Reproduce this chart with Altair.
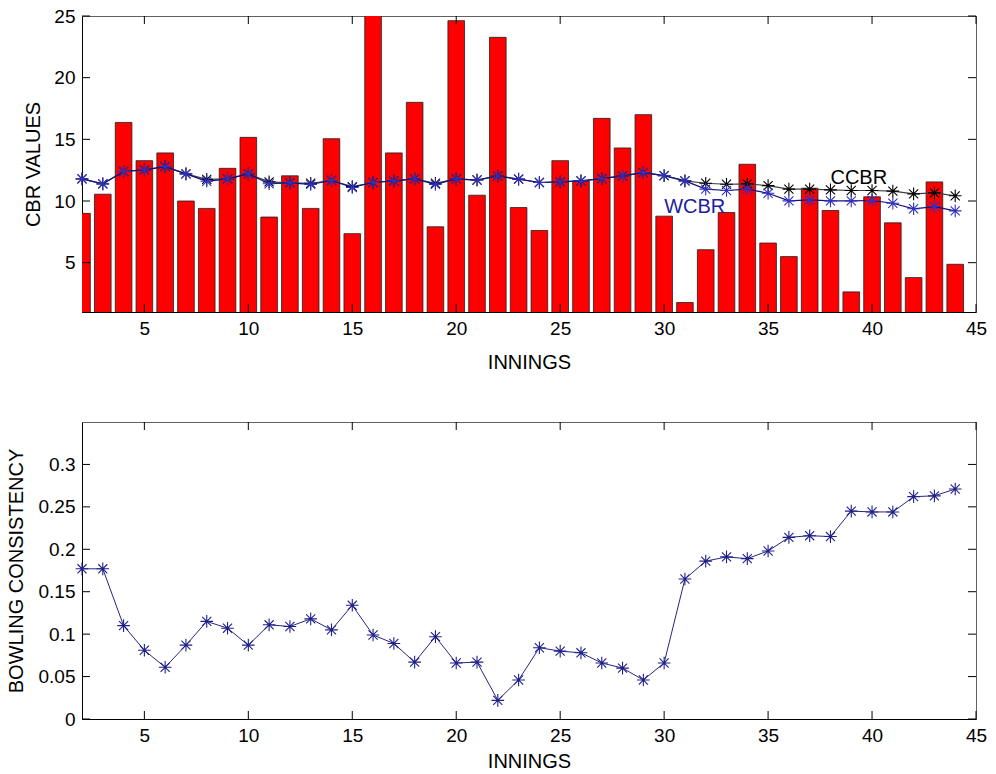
import altair as alt
import pandas as pd

# ---------------- data ----------------
innings = list(range(2, 45))
cbr = [9.0, 10.55, 16.37, 13.27, 13.9, 10.0, 9.4, 12.65, 15.16, 8.7,
       12.04, 9.4, 15.05, 7.35, 27.0, 13.9, 18.0, 7.91, 24.62, 10.47,
       23.27, 9.47, 7.61, 13.27, 11.63, 16.7, 14.3, 17.0, 8.77, 1.77,
       6.05, 9.07, 12.98, 6.59, 5.49, 11.04, 9.23, 2.63, 10.34, 8.23,
       3.79, 11.55, 4.87]
ccbr = [11.79, 11.39, 12.39, 12.52, 12.79, 12.2, 11.75, 11.79, 12.2, 11.55,
        11.47, 11.44, 11.66, 11.17, 11.5, 11.63, 11.79, 11.44, 11.79, 11.7,
        12.03, 11.77, 11.5, 11.55, 11.63, 11.82, 12.03, 12.3, 12.06, 11.63,
        11.44, 11.36, 11.39, 11.25, 10.96, 10.96, 10.9, 10.85, 10.85, 10.8,
        10.58, 10.66, 10.42]
wcbr = [11.79, 11.39, 12.39, 12.52, 12.79, 12.2, 11.6, 11.79, 12.2, 11.4,
        11.47, 11.35, 11.66, 11.1, 11.5, 11.63, 11.79, 11.35, 11.79, 11.7,
        12.03, 11.77, 11.5, 11.55, 11.63, 11.82, 12.03, 12.3, 12.06, 11.63,
        10.96, 10.85, 10.96, 10.63, 10.01, 10.09, 10.01, 10.01, 10.04, 9.82,
        9.37, 9.55, 9.2]
consistency = [0.177, 0.177, 0.110, 0.081, 0.061, 0.087, 0.115, 0.107, 0.087, 0.111,
               0.109, 0.118, 0.105, 0.134, 0.099, 0.089, 0.067, 0.097, 0.066, 0.067,
               0.022, 0.046, 0.084, 0.080, 0.078, 0.066, 0.060, 0.046, 0.066, 0.165,
               0.186, 0.191, 0.189, 0.198, 0.214, 0.216, 0.215, 0.245, 0.244, 0.244,
               0.262, 0.263, 0.271]

x_ticks = [5, 10, 15, 20, 25, 30, 35, 40, 45]
y1_ticks = [5, 10, 15, 20, 25]
y2_ticks = [0, 0.05, 0.1, 0.15, 0.2, 0.25, 0.3]

ann_label = ["CCBR", "WCBR"]
ann_x = [38.0, 30.0]
ann_y = [11.85, 9.5]
ann_color = ["black", "#2020a0"]

# ---------------- layout / style ----------------
W = 894
H1 = 296
H2 = 297
TICK = 8
FONT = "Liberation Sans"
STAR = "M-1,0L1,0M0,-1L0,1M-0.72,-0.72L0.72,0.72M-0.72,0.72L0.72,-0.72"

df_top = pd.DataFrame({"inning": innings, "cbr": cbr, "ccbr": ccbr, "wcbr": wcbr})
df_bot = pd.DataFrame({"inning": innings, "bc": consistency})
df_xt = pd.DataFrame({"t": x_ticks})
df_y1t = pd.DataFrame({"t": y1_ticks})
df_y2t = pd.DataFrame({"t": y2_ticks})
df_ann = pd.DataFrame({"label": ann_label, "x": ann_x, "y": ann_y, "c": ann_color})

xscale = alt.Scale(domain=[2, 45], nice=False, zero=False)
y1scale = alt.Scale(domain=[1, 25], nice=False, zero=False)
y2scale = alt.Scale(domain=[0, 0.35], nice=False, zero=False)


def make_xaxis(tp):
    return alt.Axis(title="INNINGS", values=x_ticks, tickSize=0, grid=False,
                    domainColor="black", labelPadding=7, titlePadding=tp,
                    labelFlush=False, labelOverlap=False)


xaxis1 = make_xaxis(14)
xaxis2 = make_xaxis(6)
y1axis = alt.Axis(title="CBR VALUES", values=y1_ticks, tickSize=0, grid=False,
                  domainColor="black", labelPadding=7, titlePadding=10,
                  labelFlush=False, labelOverlap=False)
y2axis = alt.Axis(title="BOWLING CONSISTENCY", values=y2_ticks, tickSize=0, grid=False,
                  domainColor="black", labelPadding=7, titlePadding=12,
                  labelFlush=False, labelOverlap=False, format="~g")


def X1(field):
    return alt.X(field, scale=xscale, axis=xaxis1)


def X2(field):
    return alt.X(field, scale=xscale, axis=xaxis2)


def Y1(field):
    return alt.Y(field, scale=y1scale, axis=y1axis)


def Y2(field):
    return alt.Y(field, scale=y2scale, axis=y2axis)


def inward_ticks(xenc, yenc, ydf, h, w):
    xt = alt.Chart(df_xt)
    yt = alt.Chart(ydf)
    return [
        xt.mark_rule(color="black", strokeWidth=1).encode(
            x=xenc("t:Q"), y=alt.value(h - TICK), y2=alt.value(h)),
        xt.mark_rule(color="black", strokeWidth=1).encode(
            x=xenc("t:Q"), y=alt.value(0), y2=alt.value(TICK)),
        yt.mark_rule(color="black", strokeWidth=1).encode(
            y=yenc("t:Q"), x=alt.value(0), x2=alt.value(TICK)),
        yt.mark_rule(color="black", strokeWidth=1).encode(
            y=yenc("t:Q"), x=alt.value(w - TICK), x2=alt.value(w)),
    ]


# ---------------- top panel ----------------
base_top = alt.Chart(df_top)
bars = base_top.transform_calculate(
    x0="datum.inning - 0.4", x1="datum.inning + 0.4"
).mark_bar(color="#ff0000", stroke="#202020", strokeWidth=0.8, clip=True).encode(
    x=X1("x0:Q"), x2="x1:Q", y=Y1("cbr:Q"), y2=alt.datum(0)
)
ccbr_line = base_top.mark_line(color="#404040", strokeWidth=1.2).encode(
    x=X1("inning:Q"), y=Y1("ccbr:Q"))
ccbr_pts = base_top.mark_point(shape=STAR, color="black", size=160, strokeWidth=1.1,
                               filled=False, opacity=1).encode(
    x=X1("inning:Q"), y=Y1("ccbr:Q"))
wcbr_line = base_top.mark_line(color="#101080", strokeWidth=1.2).encode(
    x=X1("inning:Q"), y=Y1("wcbr:Q"))
wcbr_pts = base_top.mark_point(shape=STAR, color="#3030c0", size=160, strokeWidth=1.1,
                               filled=False, opacity=1).encode(
    x=X1("inning:Q"), y=Y1("wcbr:Q"))
ann = alt.Chart(df_ann).mark_text(align="left", baseline="middle", font=FONT,
                                   fontSize=20).encode(
    x=X1("x:Q"), y=Y1("y:Q"), text="label:N",
    color=alt.Color("c:N", scale=None))

top = alt.layer(
    bars, ccbr_line, ccbr_pts, wcbr_line, wcbr_pts, ann,
    *inward_ticks(X1, Y1, df_y1t, H1, W)
).properties(width=W, height=H1)

# ---------------- bottom panel ----------------
base_bot = alt.Chart(df_bot)
bc_line = base_bot.mark_line(color="#262680", strokeWidth=1).encode(
    x=X2("inning:Q"), y=Y2("bc:Q"))
bc_pts = base_bot.mark_point(shape=STAR, color="#20208a", size=160, strokeWidth=1.1,
                             filled=False, opacity=1).encode(
    x=X2("inning:Q"), y=Y2("bc:Q"))

bottom = alt.layer(
    bc_line, bc_pts, *inward_ticks(X2, Y2, df_y2t, H2, W)
).properties(width=W, height=H2)

chart = alt.vconcat(top, bottom, spacing=48).properties(
    padding={"left": 5, "top": 6, "right": 5, "bottom": 2},
    background="white",
).configure_view(
    stroke="#606060", strokeWidth=1
).configure_axis(
    labelFont=FONT, titleFont=FONT, labelFontSize=19, titleFontSize=20,
    titleFontWeight="normal", labelColor="black", titleColor="black",
    domainWidth=1
)

chart.save("out.html", embed_options={"renderer": "svg", "actions": False})
